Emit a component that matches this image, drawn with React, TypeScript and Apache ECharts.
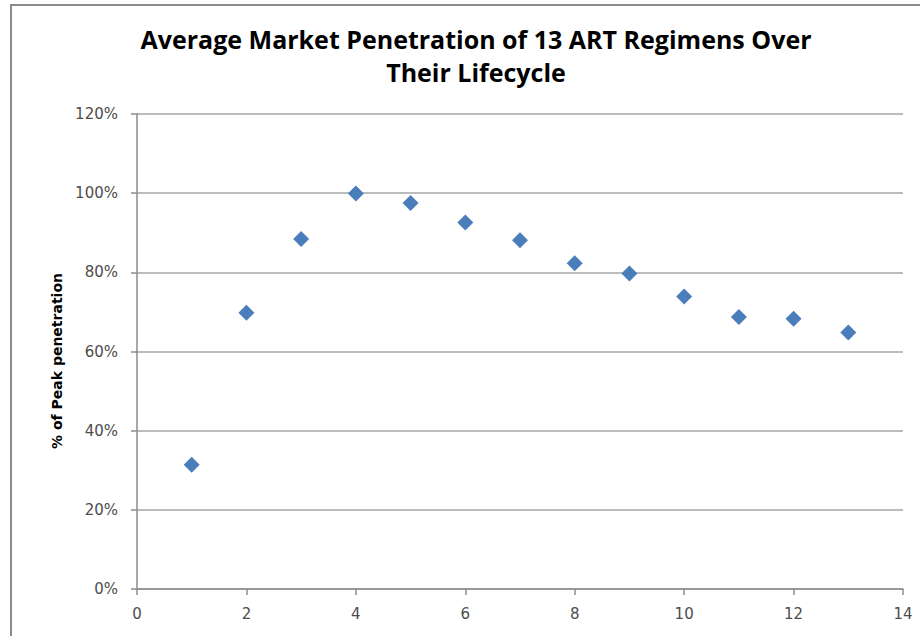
import React, { useEffect, useRef } from "react";
import * as echarts from "echarts";

const titleText = "Average Market Penetration of 13 ART Regimens Over\nTheir Lifecycle";
const yAxisName = "% of Peak penetration";
const years = [1, 2, 3, 4, 5, 6, 7, 8, 9, 10, 11, 12, 13];
const penetration = [0.314, 0.698, 0.884, 0.999, 0.975, 0.926, 0.881, 0.823, 0.797, 0.739, 0.687, 0.683, 0.648];

export default function App() {
  const ref = useRef<HTMLDivElement>(null);
  useEffect(() => {
    if (!ref.current) return;
    const chart = echarts.init(ref.current, null, { renderer: "svg" });
    const axisFont = { fontFamily: "DejaVu Sans", fontSize: 15, color: "#4d4d4d" };
    chart.setOption({
      animation: false,
      backgroundColor: "#ffffff",
      title: {
        text: titleText,
        left: 471,
        textAlign: "center",
        top: 17,
        textStyle: {
          fontFamily: "Open Sans",
          fontWeight: "bold",
          fontSize: 25,
          lineHeight: 33,
          color: "#000000",
        },
      },
      graphic: [
        {
          type: "polyline",
          shape: { points: [[11, 640], [11, 5], [925, 5]] },
          style: { stroke: "#8c8c8c", lineWidth: 2, fill: null },
          silent: true,
        },
        {
          type: "text",
          x: 57,
          y: 361,
          rotation: Math.PI / 2,
          style: {
            text: yAxisName,
            fontFamily: "DejaVu Sans",
            fontWeight: "bold",
            fontSize: 14,
            fill: "#000000",
            align: "center",
            verticalAlign: "middle",
          },
          silent: true,
        },
      ],
      grid: { left: 137, right: 17, top: 114, bottom: 47 },
      xAxis: {
        type: "value",
        min: 0,
        max: 14,
        interval: 2,
        axisLine: { show: true, lineStyle: { color: "#8c8c8c", width: 1.5 } },
        axisTick: { show: true, length: 6, lineStyle: { color: "#8c8c8c", width: 1.5 } },
        splitLine: { show: false },
        axisLabel: { ...axisFont, margin: 17 },
      },
      yAxis: {
        type: "value",
        min: 0,
        max: 1.2,
        interval: 0.2,
        axisLine: { show: true, onZero: false, lineStyle: { color: "#8c8c8c", width: 1.5 } },
        axisTick: { show: true, length: 6, lineStyle: { color: "#8c8c8c", width: 1.5 } },
        splitLine: { show: true, lineStyle: { color: "#a6a6a6", width: 1.5 } },
        axisLabel: {
          ...axisFont,
          margin: 19,
          formatter: (v: number) => `${Math.round(v * 100)}%`,
        },
      },
      series: [
        {
          type: "scatter",
          data: years.map((x, i) => [x, penetration[i]]),
          symbol: "diamond",
          symbolSize: [16, 16],
          itemStyle: { color: "#4a7ebb", opacity: 1 },
        },
      ],
    });
    return () => chart.dispose();
  }, []);
  return (
    <div
      ref={ref}
      style={{ position: "fixed", left: 0, top: 0, width: 920, height: 636 }}
    />
  );
}
